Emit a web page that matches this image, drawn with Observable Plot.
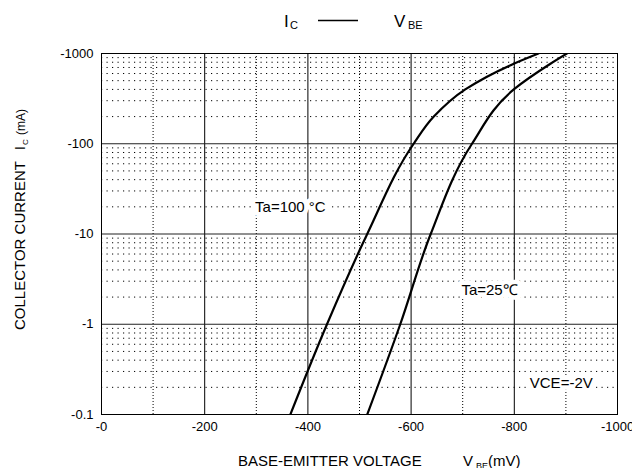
<!DOCTYPE html>
<html><head><meta charset="utf-8">
<script src="https://cdn.jsdelivr.net/npm/d3@7"></script>
<script src="https://cdn.jsdelivr.net/npm/@observablehq/plot@0.6"></script>
<style>
body{margin:0;background:#fff}
svg{font-family:"Liberation Sans",Arial,sans-serif}
</style>
</head><body><div id="chart"></div>
<script>
// Axis ticks and grid values
const xTicks = [0, -200, -400, -600, -800, -1000];
const xMinor = [-100, -300, -500, -700, -900];
const yMajor = [0.1, 1, 10, 100, 1000];
const yMinor = [0.2,0.3,0.4,0.5,0.6,0.7,0.8,0.9, 2,3,4,5,6,7,8,9, 20,30,40,50,60,70,80,90, 200,300,400,500,600,700,800,900];

// Series: base-emitter voltage (mV) vs collector current magnitude (mA)
const vbe100 = [-366, -437, -515, -605, -644, -705, -799, -847];
const ic100  = [0.1, 1, 10, 100, 200, 400, 770, 1000];
const vbe25  = [-515, -579, -638, -718, -799, -870, -902];
const ic25   = [0.1, 1, 10, 100, 400, 770, 1000];

// Annotations
const noteText = ["Ta=100 °C", "Ta=25℃", "VCE=-2V"];
const noteX = [-366, -752, -891];
const noteY = [20, 2.37, 0.22];

const s100 = vbe100.map((v, i) => ({v, ic: ic100[i]}));
const s25 = vbe25.map((v, i) => ({v, ic: ic25[i]}));
const notes = noteText.map((t, i) => ({t, x: noteX[i], y: noteY[i]}));

const plot = Plot.plot({
  width: 632, height: 468,
  marginLeft: 101, marginRight: 15, marginTop: 53, marginBottom: 54,
  style: {fontFamily: '"Liberation Sans", Arial, sans-serif', fontSize: "13px", background: "white", color: "black", overflow: "visible"},
  x: {domain: [0, -1000], label: null},
  y: {type: "log", domain: [0.1, 1000], label: null},
  marks: [
    Plot.ruleX(xMinor, {stroke: "black", strokeDasharray: "1,2", strokeWidth: 1}),
    Plot.ruleY(yMinor, {stroke: "black", strokeDasharray: "1.2,4.3", strokeWidth: 1}),
    Plot.ruleX(xTicks, {stroke: "black", strokeWidth: 1}),
    Plot.ruleY(yMajor, {stroke: "#222", strokeWidth: 1.2}),
    Plot.frame({stroke: "black"}),
    Plot.line(s100, {x: "v", y: "ic", stroke: "black", strokeWidth: 2.2, curve: "monotone-y", clip: true}),
    Plot.line(s25, {x: "v", y: "ic", stroke: "black", strokeWidth: 2.2, curve: "monotone-y", clip: true}),
    Plot.text(notes, {x: "x", y: "y", text: "t", fill: "black", stroke: "white", strokeWidth: 9, paintOrder: "stroke", fontSize: 15}),
    Plot.axisX({ticks: xTicks, tickSize: 0, tickPadding: 7, tickFormat: d => d === 0 ? "-0" : String(d), label: null, fontSize: 13}),
    Plot.axisY({ticks: yMajor, tickSize: 0, tickPadding: 8, tickFormat: d => "-" + d, label: null, fontSize: 13})
  ]
});
document.getElementById("chart").appendChild(plot);

const svg = d3.select(plot);
// Title
const t = svg.append("g").attr("fill", "black").attr("text-anchor", "start");
t.append("text").attr("x", 284).attr("y", 27).attr("font-size", 17).text("I");
t.append("text").attr("x", 290).attr("y", 28.5).attr("font-size", 11).text("C");
t.append("line").attr("x1", 318).attr("x2", 358).attr("y1", 20.5).attr("y2", 20.5).attr("stroke", "black").attr("stroke-width", 1.3);
t.append("text").attr("x", 394).attr("y", 27).attr("font-size", 17).text("V");
t.append("text").attr("x", 408).attr("y", 28.5).attr("font-size", 11).text("BE");

// X label
const xl = svg.append("g").attr("fill", "black").attr("text-anchor", "start");
xl.append("text").attr("x", 238).attr("y", 466).attr("font-size", 15).text("BASE-EMITTER VOLTAGE");
xl.append("text").attr("x", 463).attr("y", 466).attr("font-size", 15).text("V");
xl.append("text").attr("x", 476).attr("y", 469).attr("font-size", 9).text("BE");
xl.append("text").attr("x", 488).attr("y", 466).attr("font-size", 15).text("(mV)");

// Y label
const yl = svg.append("g").attr("fill", "black").attr("text-anchor", "start").attr("transform", "translate(25,330) rotate(-90)");
yl.append("text").attr("x", 0).attr("y", 0).attr("font-size", 15).text("COLLECTOR CURRENT");
yl.append("text").attr("x", 180).attr("y", 0).attr("font-size", 14).text("I");
yl.append("text").attr("x", 185).attr("y", 3).attr("font-size", 8).text("C");
yl.append("text").attr("x", 195).attr("y", 0).attr("font-size", 12).text("(mA)");
</script>
</body></html>
